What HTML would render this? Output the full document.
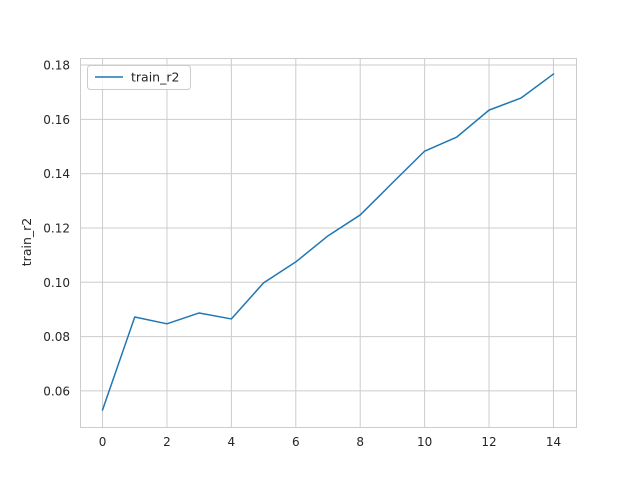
<!DOCTYPE html>
<html><head><meta charset="utf-8"><style>
body{margin:0;background:#fff}
svg{display:block;font-family:"DejaVu Sans","Liberation Sans",sans-serif}
</style></head><body>
<svg id="chart" width="640" height="480" xmlns="http://www.w3.org/2000/svg">
<rect width="640" height="480" fill="#fff"/>
<g id="grid"></g>
<g id="ticks"></g>
<rect x="80.5" y="58.5" width="496" height="369" fill="none" stroke="#cccccc" stroke-width="1"/>
<g id="series"></g>
<text transform="translate(31,242) rotate(-90)" text-anchor="middle" font-size="12.5" fill="#262626">train_r2</text>
<g>
<rect x="87.5" y="65.5" width="103" height="24" rx="3" fill="#fff" fill-opacity="0.8" stroke="#cccccc"/>
<line x1="95" y1="77" x2="123" y2="77" stroke="#1f77b4" stroke-width="1.5"/>
<text x="131" y="81.5" font-size="12.5" fill="#262626">train_r2</text>
</g>
</svg>
<script>
const epochs=[0,1,2,3,4,5,6,7,8,9,10,11,12,13,14];
const trainR2=[0.0530,0.0872,0.0847,0.0887,0.0865,0.0998,0.1075,0.1171,0.1248,0.1366,0.1483,0.1535,0.1634,0.1679,0.1767];
const xTicks=[0,2,4,6,8,10,12,14];
const yTicks=[0.06,0.08,0.10,0.12,0.14,0.16,0.18];
const L=80,R=576,T=58,B=427;
const xMin=-0.7,xMax=14.7,yMin=0.0467,yMax=0.1826;
const sx=v=>L+(v-xMin)/(xMax-xMin)*(R-L);
const sy=v=>B-(v-yMin)/(yMax-yMin)*(B-T);
const NS="http://www.w3.org/2000/svg";
const grid=document.getElementById('grid'),ticks=document.getElementById('ticks'),series=document.getElementById('series');
function mk(tag,attrs,parent){const e=document.createElementNS(NS,tag);for(const k in attrs)e.setAttribute(k,attrs[k]);parent.appendChild(e);return e;}
xTicks.forEach(v=>{
 const x=sx(v);
 const g=mk('line',{x1:x,x2:x,y1:T,y2:B,stroke:'#cccccc','stroke-width':1},grid);
 
 
 const t=mk('text',{x:x,y:B+19,'text-anchor':'middle','font-size':12,fill:'#262626'},ticks);
 t.textContent=v;
 
 
});
yTicks.forEach(v=>{
 const y=sy(v);
 const g=mk('line',{x1:L,x2:R,y1:y,y2:y,stroke:'#cccccc','stroke-width':1},grid);
 
 
 const t=mk('text',{x:L-10,y:y+4.5,'text-anchor':'end','font-size':12,fill:'#262626'},ticks);
 t.textContent=v.toFixed(2);
 
 
});
const pts=epochs.map((e,i)=>sx(e).toFixed(2)+','+sy(trainR2[i]).toFixed(2)).join(' ');
const line=mk('polyline',{points:pts,fill:'none',stroke:'#1f77b4','stroke-width':1.5,'stroke-linejoin':'round','stroke-linecap':'square'},series);


</script>
</body></html>
